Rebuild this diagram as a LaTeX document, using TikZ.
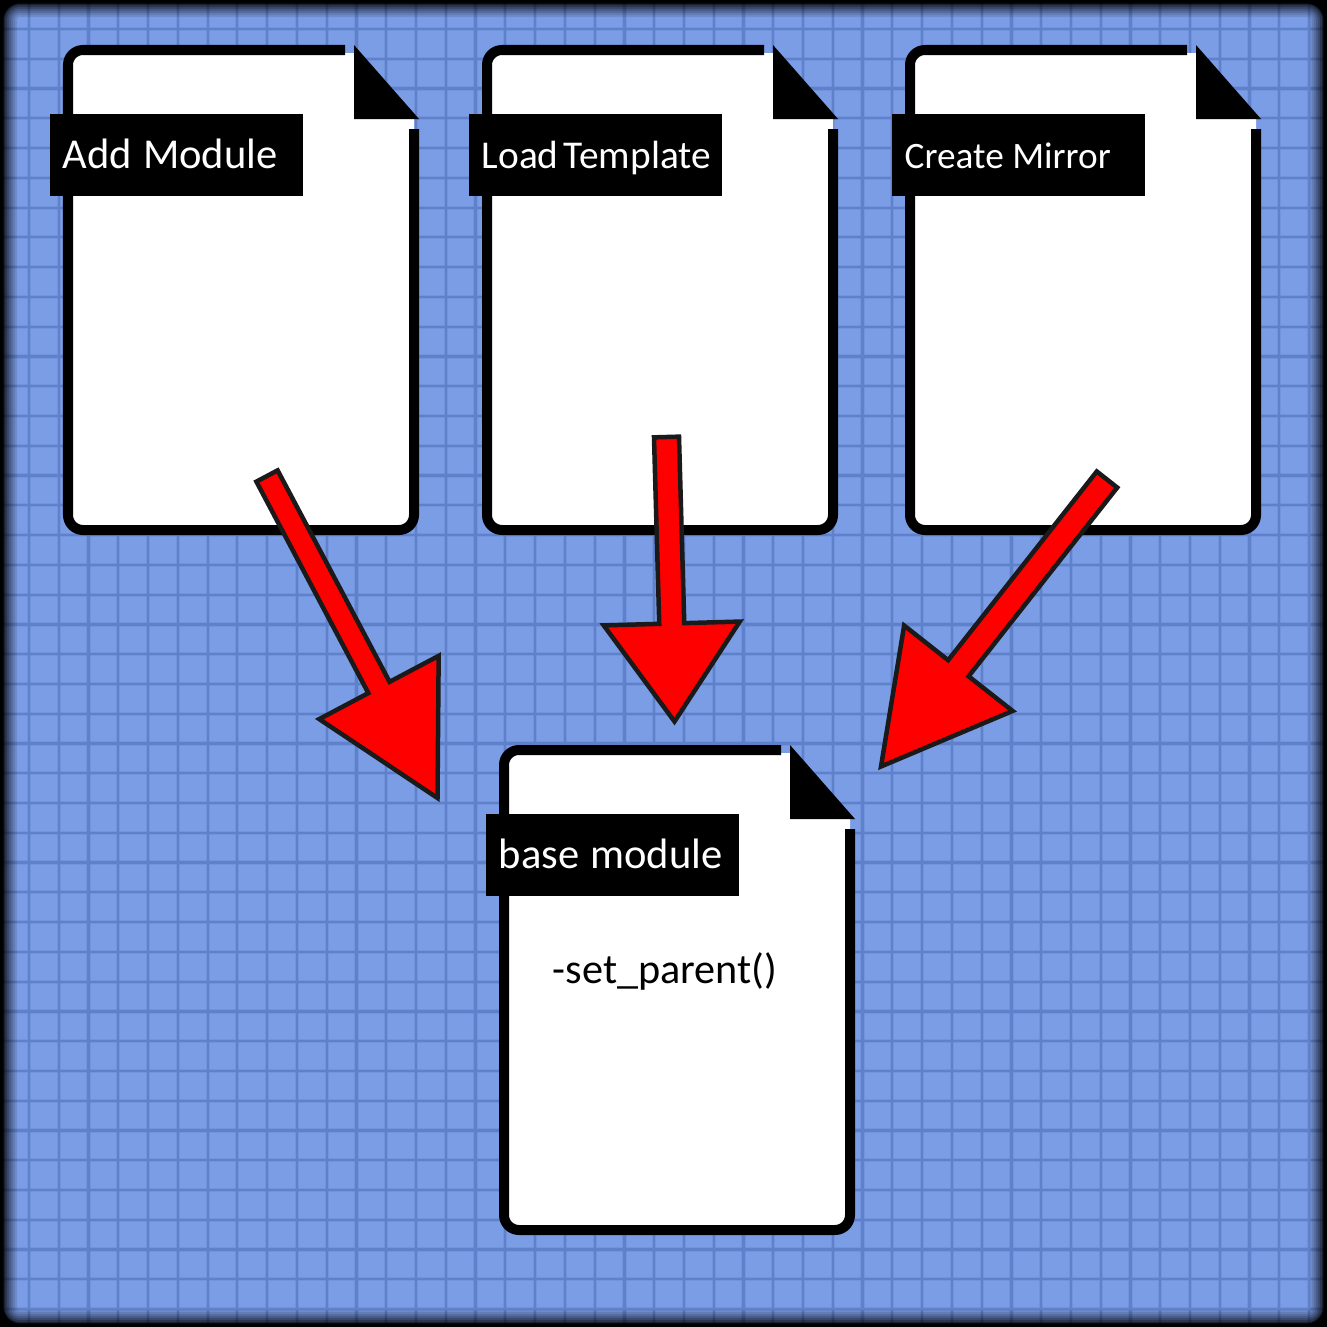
\documentclass[tikz,border=0pt]{standalone}
\usepackage{fontspec}
\setmainfont{Carlito}
\usetikzlibrary{calc,positioning}
\definecolor{sheetblue}{HTML}{7B9DE5}
\definecolor{gridblue}{HTML}{5F81CC}
\definecolor{arrowline}{HTML}{1A1A1A}
\tikzset{
  gridline/.style={gridblue, line width=0.022cm},
  gridhalo/.style={gridblue, opacity=0.3, line width=0.042cm},
  sheetfill/.style={fill=white},
  sheetline/.style={draw=black, line width=0.1cm, rounded corners=0.15cm},
  foldtip/.style={fill=black},
  titlebox/.style={fill=black, text=white, anchor=north west, inner xsep=0.125cm, inner ysep=0pt, text width=2.275cm, text height=0.54cm, text depth=0.28cm, font=\fontsize{12.1}{14}\selectfont},
  smalltitle/.style={titlebox, font=\fontsize{11.2}{14}\selectfont},
  tinytitle/.style={titlebox, font=\fontsize{10.6}{14}\selectfont},
  methodtext/.style={anchor=base, font=\fontsize{12}{14}\selectfont},
  arrowbody/.style={draw=arrowline, fill=red, line width=0.045cm, miter limit=10}
}
\newcommand{\titletext}[2]{\mbox{\spaceskip=#1\relax #2}}
\newcommand{\bigarrow}[5]{
  \coordinate (#1base) at ($(#2)!#3!(#1)$);
  \draw[arrowbody] ($(#1)!#5!90:(#2)$) -- ($(#1base)!#5!90:(#2)$) -- ($(#1base)!#4!90:(#2)$) -- (#2) -- ($(#1base)!#4!-90:(#2)$) -- ($(#1base)!#5!-90:(#2)$) -- ($(#1)!#5!-90:(#2)$) -- cycle;
}
\begin{document}
\begin{tikzpicture}[x=0.01cm, y=-0.01cm]
  \clip (0,0) rectangle (1327,1327);
  \fill[sheetblue] (0,0) rectangle (1327,1327);
  \foreach \k in {1,...,44} {
    \draw[gridhalo] ({29+29.77*(\k-1)},0) -- ({29+29.77*(\k-1)},1327);
    \draw[gridhalo] (0,{29+29.77*(\k-1)}) -- (1327,{29+29.77*(\k-1)});
    \draw[gridline] ({29+29.77*(\k-1)},0) -- ({29+29.77*(\k-1)},1327);
    \draw[gridline] (0,{29+29.77*(\k-1)}) -- (1327,{29+29.77*(\k-1)});
  }
  \foreach \d/\a in {17/0.1,15/0.1,13/0.12,11/0.15,9/0.2,7/0.25,5/0.4}
    \draw[black, opacity=\a, line width={2*(40+\d)*0.01cm}, rounded corners=0.6cm] (-40,-40) rectangle (1367,1367);
  \draw[black, line width=0.87cm, rounded corners=0.6cm] (-40,-40) rectangle (1367,1367);

  \begin{scope}[shift={(68,50)}]
    \fill[sheetfill] (286,3) -- (286,69) -- (346,69) [rounded corners=0.15cm] -- (346,480) -- (0,480) -- (0,3) [sharp corners] -- cycle;
    \draw[sheetline] (277,0) -- (0,0) -- (0,480) -- (346,480) -- (346,79);
    \fill[foldtip] (286,-5) -- (351,69) -- (286,69) -- cycle;
    \node[titlebox] (addtitle) at (-18.5,63.5) {\titletext{0.11cm}{Add Module}};
  \end{scope}
  \begin{scope}[shift={(487,50)}]
    \fill[sheetfill] (286,3) -- (286,69) -- (346,69) [rounded corners=0.15cm] -- (346,480) -- (0,480) -- (0,3) [sharp corners] -- cycle;
    \draw[sheetline] (277,0) -- (0,0) -- (0,480) -- (346,480) -- (346,79);
    \fill[foldtip] (286,-5) -- (351,69) -- (286,69) -- cycle;
    \node[smalltitle] (loadtitle) at (-18.5,63.5) {\titletext{0.05cm}{Load Template}};
  \end{scope}
  \begin{scope}[shift={(910,50)}]
    \fill[sheetfill] (286,3) -- (286,69) -- (346,69) [rounded corners=0.15cm] -- (346,480) -- (0,480) -- (0,3) [sharp corners] -- cycle;
    \draw[sheetline] (277,0) -- (0,0) -- (0,480) -- (346,480) -- (346,79);
    \fill[foldtip] (286,-5) -- (351,69) -- (286,69) -- cycle;
    \node[tinytitle] (mirrortitle) at (-18.5,63.5) {\titletext{0.085cm}{Create Mirror}};
  \end{scope}
  \begin{scope}[shift={(504,750)}]
    \fill[sheetfill] (286,3) -- (286,69) -- (346,69) [rounded corners=0.15cm] -- (346,480) -- (0,480) -- (0,3) [sharp corners] -- cycle;
    \draw[sheetline] (277,0) -- (0,0) -- (0,480) -- (346,480) -- (346,79);
    \fill[foldtip] (286,-5) -- (351,69) -- (286,69) -- cycle;
    \node[titlebox] (basetitle) at (-18.5,63.5) {\titletext{0.11cm}{base module}};
    \node[methodtext] (parentcall) at (161,233) {-set\_parent()};
  \end{scope}

  \coordinate (addtail) at (267,476);
  \coordinate (addtip) at (437.5,798);
  \coordinate (loadtail) at (666.5,437);
  \coordinate (loadtip) at (674.5,721.5);
  \coordinate (mirrortail) at (1107,479.5);
  \coordinate (mirrortip) at (881,766.5);
  \bigarrow{addtail}{addtip}{1.25cm}{0.675cm}{0.12cm}
  \bigarrow{loadtail}{loadtip}{0.98cm}{0.68cm}{0.125cm}
  \bigarrow{mirrortail}{mirrortip}{1.25cm}{0.69cm}{0.13cm}
\end{tikzpicture}
\end{document}
